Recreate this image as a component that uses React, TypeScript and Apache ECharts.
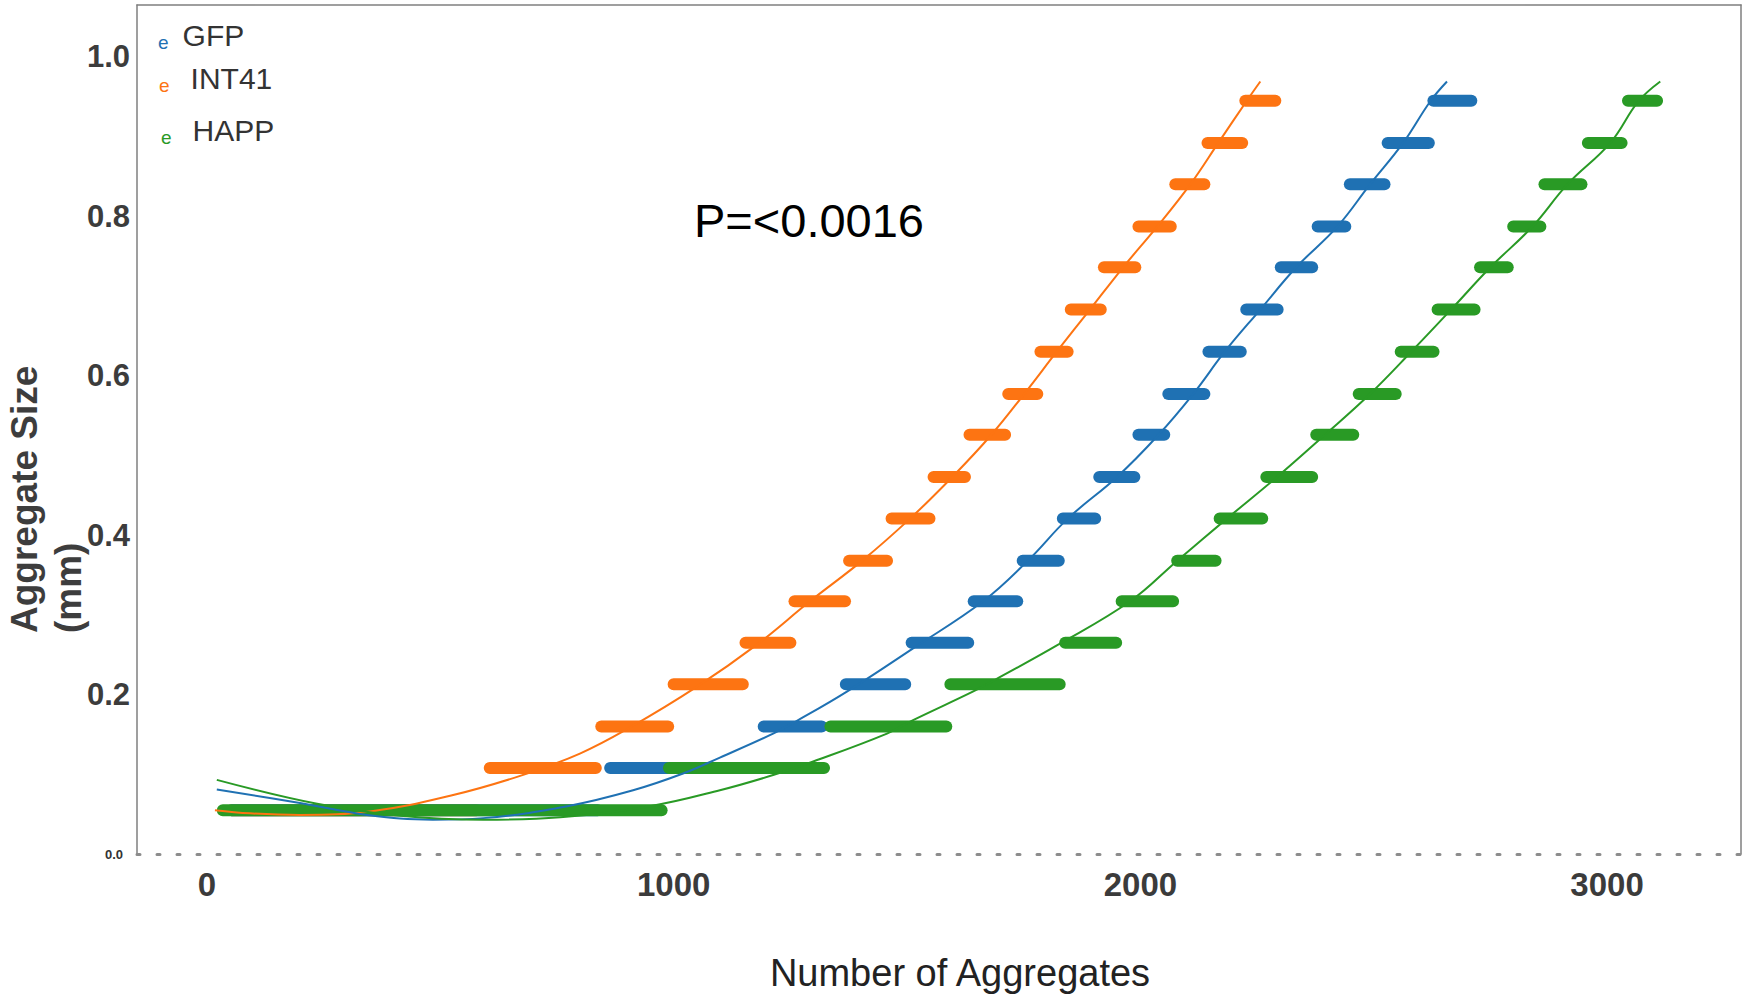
import { useEffect, useRef } from 'react';
import * as echarts from 'echarts';

// Step levels (Aggregate Size, mm), bottom to top
const LEVELS = [0.055, 0.108, 0.160, 0.213, 0.265, 0.317, 0.368, 0.421, 0.473, 0.526, 0.577, 0.630, 0.683, 0.736, 0.787, 0.840, 0.892, 0.945];

// [start, end] number of aggregates for each level
const INT41_BARS: [number, number][] = [
  [40, 590], [593, 846], [832, 1001], [987, 1161], [1141, 1263], [1246, 1380], [1363, 1470], [1454, 1561], [1544, 1637],
  [1621, 1723], [1704, 1792], [1773, 1857], [1838, 1928], [1909, 2002], [1983, 2078], [2062, 2150], [2131, 2231], [2212, 2302],
];
const GFP_BARS: [number, number][] = [
  [40, 850], [851, 1000], [1180, 1330], [1356, 1509], [1497, 1644], [1630, 1749], [1735, 1838], [1821, 1916], [1899, 2000],
  [1983, 2064], [2047, 2150], [2133, 2228], [2214, 2307], [2288, 2381], [2367, 2452], [2436, 2536], [2517, 2631], [2615, 2722],
];
const HAPP_BARS: [number, number][] = [
  [21, 987], [977, 1335], [1323, 1597], [1580, 1840], [1826, 1961], [1947, 2083], [2066, 2174], [2157, 2274], [2257, 2381],
  [2364, 2469], [2455, 2560], [2545, 2641], [2624, 2729], [2715, 2800], [2786, 2870], [2853, 2958], [2946, 3044], [3032, 3120],
];

// fitted curves [aggregates, size]
const INT41_CURVE: [number, number][] = [
  [17, 0.055], [92, 0.051], [199, 0.049], [356, 0.054], [521, 0.073], [671, 0.098], [799, 0.126], [907, 0.159],
  [1050, 0.210], [1179, 0.263], [1292, 0.317], [1404, 0.368], [1507, 0.421], [1597, 0.473], [1678, 0.524],
  [1751, 0.577], [1822, 0.631], [1892, 0.683], [1963, 0.736], [2036, 0.787], [2107, 0.840], [2167, 0.892],
  [2227, 0.944], [2257, 0.969],
];
const GFP_CURVE: [number, number][] = [
  [21, 0.081], [199, 0.064], [343, 0.049], [484, 0.043], [592, 0.045], [772, 0.060], [913, 0.080], [1020, 0.101],
  [1099, 0.121], [1213, 0.151], [1264, 0.167], [1372, 0.204], [1513, 0.258], [1663, 0.317], [1759, 0.368],
  [1845, 0.421], [1950, 0.473], [2036, 0.524], [2113, 0.577], [2182, 0.631], [2257, 0.683], [2334, 0.736],
  [2422, 0.787], [2492, 0.840], [2563, 0.892], [2621, 0.944], [2657, 0.969],
];
const HAPP_CURVE: [number, number][] = [
  [21, 0.093], [236, 0.063], [414, 0.048], [592, 0.043], [757, 0.046], [949, 0.060], [1099, 0.080], [1213, 0.099],
  [1299, 0.116], [1457, 0.151], [1513, 0.168], [1642, 0.204], [1693, 0.220], [1822, 0.262], [1978, 0.317],
  [2079, 0.368], [2186, 0.421], [2293, 0.473], [2392, 0.524], [2492, 0.577], [2582, 0.631], [2666, 0.683],
  [2750, 0.736], [2840, 0.787], [2915, 0.840], [3007, 0.892], [3067, 0.944], [3114, 0.969],
];

const X_TICKS = [0, 1000, 2000, 3000];
const Y_TICKS = [0, 0.2, 0.4, 0.6, 0.8, 1.0];

const C_GFP = '#1f71b3';
const C_INT41 = '#fd7412';
const C_HAPP = '#299a25';

const FONT = '"Liberation Sans", Arial, Helvetica, sans-serif';

const X_MIN = -150;
const X_MAX = 3287;
const Y_MIN = 0;
const Y_MAX = 1.065;

function barSeries(name: string, color: string, bars: [number, number][], z: number) {
  return {
    type: 'custom',
    name,
    z,
    silent: true,
    data: LEVELS.map((lv, i) => [bars[i][0], bars[i][1], lv]),
    encode: { x: [0, 1], y: 2 },
    renderItem: (_params: any, api: any) => {
      const a = api.coord([api.value(0), api.value(2)]);
      const b = api.coord([api.value(1), api.value(2)]);
      const h = 12;
      return {
        type: 'rect',
        shape: { x: a[0], y: a[1] - h / 2, width: b[0] - a[0], height: h, r: h / 2 },
        style: { fill: color },
      };
    },
  };
}

function curveSeries(name: string, color: string, pts: [number, number][]) {
  return {
    type: 'line',
    name,
    z: 10,
    silent: true,
    data: pts,
    smooth: 0.4,
    showSymbol: false,
    symbol: 'none',
    lineStyle: { color, width: 2 },
    itemStyle: { color },
  };
}

function legendFor(name: string, color: string, top: number, left: number, gap: number, shift: number) {
  return {
    top,
    left,
    orient: 'vertical',
    padding: 0,
    itemWidth: 0,
    itemHeight: 0,
    selectedMode: false,
    data: [name],
    formatter: (n: string) => `{e|e}{n|${n}}`,
    textStyle: {
      rich: {
        e: { fontSize: 19, color, fontFamily: FONT, padding: [shift * 2, gap, 0, 0] },
        n: { fontSize: 30, lineHeight: 40, color: '#333333', fontFamily: FONT },
      },
    },
  };
}

export default function App() {
  const ref = useRef<HTMLDivElement>(null);

  useEffect(() => {
    if (!ref.current) return;
    const chart = echarts.init(ref.current, undefined, { renderer: 'svg' });
    const hidden = { show: false };
    const frameLine = { show: true, onZero: false, lineStyle: { color: '#7f7f7f', width: 1.5 } };
    chart.setOption({
      animation: false,
      backgroundColor: '#ffffff',
      textStyle: { fontFamily: FONT },
      grid: { left: 137, right: 3, top: 5, bottom: 141, containLabel: false },
      legend: [
        legendFor('GFP', C_GFP, 20.5, 153, 14, 7),
        legendFor('INT41', C_INT41, 63, 154, 21, 7),
        legendFor('HAPP', C_HAPP, 115, 156, 21, 7.5),
      ],
      xAxis: [
        {
          type: 'value',
          position: 'bottom',
          min: X_MIN,
          max: X_MAX,
          splitLine: hidden,
          axisTick: hidden,
          axisLine: { show: true, onZero: false, lineStyle: { color: '#8c8c8c', width: 3, type: [3, 17] } },
          axisLabel: {
            customValues: X_TICKS,
            margin: 14,
            fontSize: 33,
            fontWeight: 'bold',
            color: '#3b3b3b',
            fontFamily: FONT,
            formatter: (v: number) => String(v),
          },
          name: 'Number of Aggregates',
          nameLocation: 'middle',
          nameGap: 100,
          nameTextStyle: { fontSize: 38, color: '#222222', fontFamily: FONT, padding: [0, 0, 0, 42] },
        },
        {
          type: 'value',
          position: 'top',
          min: X_MIN,
          max: X_MAX,
          splitLine: hidden,
          axisTick: hidden,
          axisLabel: hidden,
          axisLine: frameLine,
        },
      ],
      yAxis: [
        {
          type: 'value',
          position: 'left',
          min: Y_MIN,
          max: Y_MAX,
          splitLine: hidden,
          axisTick: hidden,
          axisLine: frameLine,
          axisLabel: {
            customValues: Y_TICKS,
            margin: 7,
            formatter: (v: number) => (Math.abs(v) < 1e-9 ? '{s|0.0}' : `{b|${v.toFixed(1)}}`),
            rich: {
              b: { fontSize: 31, fontWeight: 'bold', color: '#3c3c3c', fontFamily: FONT },
              s: { fontSize: 13, fontWeight: 'bold', color: '#333333', fontFamily: FONT, padding: [0, 7, 0, 0] },
            },
          },
        },
        {
          type: 'value',
          position: 'right',
          min: Y_MIN,
          max: Y_MAX,
          splitLine: hidden,
          axisTick: hidden,
          axisLabel: hidden,
          axisLine: frameLine,
        },
      ],
      graphic: [
        {
          type: 'text',
          x: 2,
          y: 633,
          rotation: Math.PI / 2,
          silent: true,
          style: {
            text: 'Aggregate Size\n(mm)',
            fontSize: 37,
            fontWeight: 'bold',
            fontFamily: FONT,
            fill: '#3d3d3d',
            align: 'left',
            verticalAlign: 'top',
            lineHeight: 44,
          },
        },
        {
          type: 'text',
          x: 809,
          y: 220,
          silent: true,
          style: {
            text: 'P=<0.0016',
            fontSize: 47,
            fontFamily: FONT,
            fill: '#000000',
            align: 'center',
            verticalAlign: 'middle',
          },
        },
      ],
      series: [
        barSeries('INT41', C_INT41, INT41_BARS, 2),
        barSeries('GFP', C_GFP, GFP_BARS, 3),
        barSeries('HAPP', C_HAPP, HAPP_BARS, 4),
        curveSeries('INT41', C_INT41, INT41_CURVE),
        curveSeries('GFP', C_GFP, GFP_CURVE),
        curveSeries('HAPP', C_HAPP, HAPP_CURVE),
      ],
    });
    return () => chart.dispose();
  }, []);

  return (
    <div
      ref={ref}
      style={{ position: 'absolute', left: 0, top: 0, width: 1744, height: 997, background: '#fff' }}
    />
  );
}
